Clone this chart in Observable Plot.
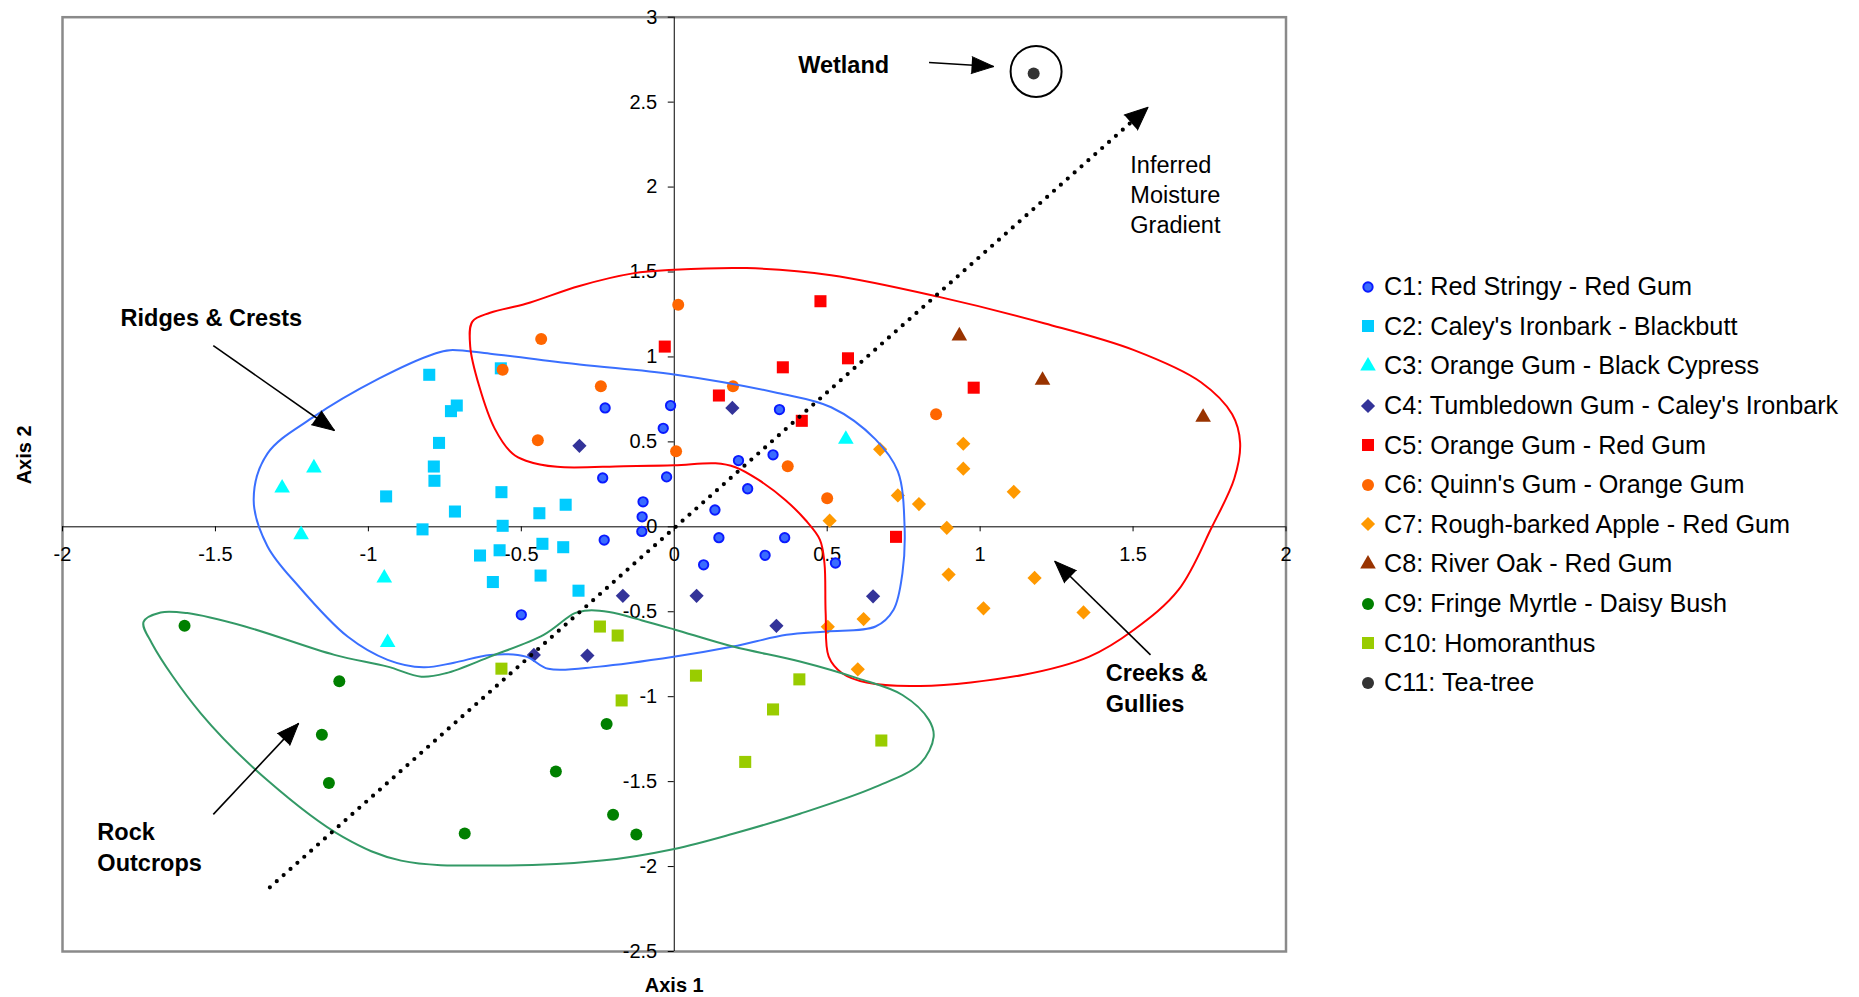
<!DOCTYPE html>
<html>
<head>
<meta charset="utf-8">
<script src="https://cdn.jsdelivr.net/npm/d3@7"></script>
<script src="https://cdn.jsdelivr.net/npm/@observablehq/plot@0.6"></script>
<style>
  body { margin: 0; background: #fff; font-family: "Liberation Sans", Arial, sans-serif; }
  #wrap { position: relative; width: 1859px; height: 997px; }
  #legend { position: absolute; left: 1357px; top: 267px; }
  .row { display: flex; align-items: center; height: 39.6px; font-size: 25.2px; color: #000; white-space: nowrap; }
  .row svg { flex: none; margin-right: 5px; }
</style>
</head>
<body>
<div id="wrap"><div id="chart"></div><div id="legend"></div></div>
<script>
// ---------- data ----------
const groups = [
  "C1: Red Stringy - Red Gum",
  "C2: Caley's Ironbark - Blackbutt",
  "C3: Orange Gum - Black Cypress",
  "C4: Tumbledown Gum - Caley's Ironbark",
  "C5: Orange Gum - Red Gum",
  "C6: Quinn's Gum - Orange Gum",
  "C7: Rough-barked Apple - Red Gum",
  "C8: River Oak - Red Gum",
  "C9: Fringe Myrtle - Daisy Bush",
  "C10: Homoranthus",
  "C11: Tea-tree"
];
const C1 = [[-0.226,0.70],[-0.012,0.714],[-0.036,0.58],[-0.234,0.288],[-0.025,0.294],[-0.102,0.147],[-0.105,0.059],[-0.106,-0.027],[-0.229,-0.078],[0.344,0.69],[0.21,0.39],[0.323,0.424],[0.24,0.224],[0.133,0.099],[0.146,-0.064],[0.361,-0.064],[0.297,-0.168],[0.096,-0.224],[0.527,-0.213],[-0.5,-0.518]];
const C2 = [[-0.801,0.895],[-0.567,0.933],[-0.711,0.714],[-0.73,0.681],[-0.769,0.494],[-0.786,0.355],[-0.784,0.271],[-0.942,0.179],[-0.565,0.204],[-0.355,0.13],[-0.717,0.09],[-0.441,0.08],[-0.823,-0.015],[-0.561,0.006],[-0.431,-0.10],[-0.363,-0.12],[-0.635,-0.169],[-0.571,-0.138],[-0.593,-0.325],[-0.437,-0.287],[-0.313,-0.376]];
const C3 = [[-1.178,0.347],[-1.282,0.229],[-1.22,-0.046],[-0.948,-0.301],[-0.937,-0.681],[0.561,0.515]];
const C4 = [[-0.31,0.477],[0.19,0.70],[-0.168,-0.406],[-0.459,-0.754],[-0.284,-0.758],[0.073,-0.406],[0.65,-0.409],[0.334,-0.583]];
const C5 = [[-0.031,1.061],[0.478,1.328],[0.568,0.992],[0.355,0.939],[0.146,0.773],[0.417,0.624],[0.979,0.819],[0.725,-0.059]];
const C6 = [[0.013,1.307],[-0.435,1.105],[-0.561,0.924],[-0.24,0.828],[-0.446,0.51],[0.006,0.445],[0.192,0.828],[0.371,0.357],[0.856,0.662],[0.5,0.168]];
const C7 = [[0.673,0.456],[0.945,0.489],[0.945,0.342],[1.11,0.206],[0.731,0.185],[0.8,0.134],[0.508,0.036],[0.891,-0.006],[0.897,-0.281],[1.178,-0.301],[1.011,-0.48],[1.338,-0.504],[0.619,-0.543],[0.502,-0.589],[0.6,-0.839]];
const C8 = [[0.932,1.124],[1.204,0.863],[1.729,0.645]];
const C9 = [[-1.601,-0.583],[-1.095,-0.909],[-1.152,-1.224],[-1.129,-1.508],[-0.685,-1.805],[-0.387,-1.441],[-0.221,-1.161],[-0.2,-1.695],[-0.124,-1.811]];
const C10 = [[-0.243,-0.587],[-0.185,-0.64],[-0.565,-0.835],[-0.172,-1.022],[0.071,-0.876],[0.409,-0.898],[0.323,-1.075],[0.677,-1.258],[0.232,-1.384]];
const C11 = [[1.175,2.668]];
const series = [C1, C2, C3, C4, C5, C6, C7, C8, C9, C10, C11];

// group outlines (hand-drawn envelopes)
const ridgesOutline = [[-0.784,1.019],[-0.733,1.04],[-0.602,1.019],[-0.31,0.956],[0,0.897],[0.338,0.788],[0.513,0.704],[0.658,0.515],[0.731,0.326],[0.753,0],[0.746,-0.272],[0.717,-0.488],[0.658,-0.587],[0.498,-0.616],[0.367,-0.636],[0.192,-0.705],[0.003,-0.764],[-0.245,-0.823],[-0.412,-0.836],[-0.485,-0.764],[-0.602,-0.754],[-0.72,-0.8],[-0.82,-0.827],[-0.937,-0.783],[-1.068,-0.646],[-1.228,-0.35],[-1.33,-0.114],[-1.375,0.16],[-1.33,0.431],[-1.184,0.641],[-0.966,0.872]];
const creeksOutline = [[-0.66,1.208],[-0.602,1.26],[-0.485,1.313],[-0.31,1.418],[-0.135,1.492],[0,1.513],[0.236,1.523],[0.513,1.481],[0.862,1.355],[1.212,1.197],[1.503,1.04],[1.722,0.851],[1.824,0.662],[1.85,0.494],[1.831,0.284],[1.758,0],[1.649,-0.37],[1.503,-0.606],[1.357,-0.764],[1.139,-0.872],[0.804,-0.937],[0.629,-0.917],[0.549,-0.862],[0.505,-0.764],[0.495,-0.508],[0.491,-0.213],[0.476,-0.075],[0.429,0.04],[0.363,0.158],[0.276,0.276],[0.2,0.351],[0.135,0.374],[0,0.362],[-0.165,0.357],[-0.383,0.353],[-0.485,0.389],[-0.529,0.431],[-0.587,0.578],[-0.638,0.83],[-0.667,1.061]];
const rockOutline = [[-1.735,-0.56],[-1.679,-0.504],[-1.592,-0.508],[-1.403,-0.587],[-1.111,-0.754],[-0.937,-0.823],[-0.827,-0.882],[-0.747,-0.862],[-0.602,-0.764],[-0.427,-0.636],[-0.325,-0.508],[-0.279,-0.492],[-0.213,-0.502],[-0.105,-0.551],[0,-0.604],[0.192,-0.705],[0.411,-0.793],[0.6,-0.892],[0.746,-0.99],[0.833,-1.138],[0.848,-1.236],[0.804,-1.394],[0.658,-1.531],[0.411,-1.689],[0.192,-1.807],[0,-1.896],[-0.237,-1.965],[-0.572,-1.994],[-0.893,-1.965],[-1.082,-1.827],[-1.33,-1.492],[-1.548,-1.098],[-1.708,-0.685]];

// annotation arrows
const arrowNames = ["Wetland", "Ridges & Crests", "Rock Outcrops", "Creeks & Gullies", "Inferred Moisture Gradient"];
const arrowX1 = [0.833, -1.507, -1.507, 1.557, -1.322];
const arrowY1 = [2.733, 1.067, -1.693, -0.754, -2.122];
const arrowX2 = [1.044, -1.111, -1.228, 1.244, 1.549];
const arrowY2 = [2.71, 0.567, -1.157, -0.203, 2.47];

// annotation labels
const labelText = ["Wetland", "Ridges & Crests", "Rock", "Outcrops", "Creeks &", "Gullies"];
const labelX = [0.405, -1.81, -1.886, -1.886, 1.411, 1.411];
const labelY = [2.716, 1.229, -1.797, -1.98, -0.862, -1.043];
const gradientText = ["Inferred", "Moisture", "Gradient"];
const gradientX = [1.491, 1.491, 1.491];
const gradientY = [2.128, 1.95, 1.775];
const wetlandRing = [[1.183, 2.681]];

// axes
const xTicks = [-2, -1.5, -1, -0.5, 0, 0.5, 1, 1.5, 2];
const xTickLabels = ["-2", "-1.5", "-1", "-0.5", "0", "0.5", "1", "1.5", "2"];
const yTicks = [-2.5, -2, -1.5, -1, -0.5, 0, 0.5, 1, 1.5, 2, 2.5, 3];
const yTickLabels = ["-2.5", "-2", "-1.5", "-1", "-0.5", "0", "0.5", "1", "1.5", "2", "2.5", "3"];

// ---------- styles ----------
const fills = ["#3a6cff", "#00ccff", "#00ffff", "#333399", "#ff0000", "#ff6600", "#ff9900", "#993300", "#008000", "#99cc00", "#333333"];
const strokes = ["#0a1aff", null, null, null, null, null, null, null, null, null, null];
const symbolNames = ["circle", "square", "triangle", "diamond2", "square", "circle", "diamond2", "triangle", "circle", "square", "circle"];
const d3Symbols = {circle: d3.symbolCircle, square: d3.symbolSquare, triangle: d3.symbolTriangle, diamond2: d3.symbolDiamond2};
const radii = [4.7, 6.8, 5.8, 6.4, 6.8, 6.0, 6.4, 5.8, 6.0, 6.8, 6.0];

const W = 1859, H = 997;
const ML = 62, MR = 573.5, MT = 16.7, MB = 46;
const kx = (W - ML - MR) / 4, ky = (H - MT - MB) / 5.5;
const font = "'Liberation Sans', Arial, sans-serif";

const table = groups.flatMap((g, i) => series[i].map(([x, y]) => ({group: g, x, y})));
const outlines = [
  ...ridgesOutline.map(([x, y]) => ({k: "ridges", x, y})),
  ...creeksOutline.map(([x, y]) => ({k: "creeks", x, y})),
  ...rockOutline.map(([x, y]) => ({k: "rock", x, y}))
];
const arrows = arrowNames.map((n, i) => ({
  name: n, x1: arrowX1[i], y1: arrowY1[i], x2: arrowX2[i], y2: arrowY2[i],
  rot: Math.atan2((arrowX2[i] - arrowX1[i]) * kx, (arrowY2[i] - arrowY1[i]) * ky) * 180 / Math.PI
}));
const labels = labelText.map((t, i) => ({t, x: labelX[i], y: labelY[i]}));
const gradLabels = gradientText.map((t, i) => ({t, x: gradientX[i], y: gradientY[i]}));
const solidArrows = arrows.slice(0, 4);
const gradArrow = arrows.slice(4);

const chart = Plot.plot({
  width: W, height: H,
  marginLeft: ML, marginRight: MR, marginTop: MT, marginBottom: MB,
  x: {domain: [-2, 2], axis: null},
  y: {domain: [-2.5, 3], axis: null},
  color: {domain: groups, range: fills},
  symbol: {domain: groups, range: symbolNames},
  style: {fontFamily: font, background: "white", overflow: "visible"},
  marks: [
    Plot.frame({stroke: "#8a8a8a", strokeWidth: 2.5}),
    Plot.ruleY([0], {stroke: "black", strokeWidth: 1}),
    Plot.ruleX([0], {stroke: "black", strokeWidth: 1}),
    Plot.ruleX(xTicks, {x: d => d, y1: 0, y2: 0, insetBottom: -5, stroke: "black", strokeWidth: 1}),
    Plot.ruleY(yTicks, {y: d => d, x1: 0, x2: 0, insetLeft: -6, stroke: "black", strokeWidth: 1}),
    Plot.text(xTicks, {x: d => d, y: 0, text: (d, i) => xTickLabels[i], dy: 28, fontSize: 20, fill: "black"}),
    Plot.text(yTicks, {x: 0, y: d => d, text: (d, i) => yTickLabels[i], dx: -17, textAnchor: "end", fontSize: 20, fill: "black"}),
    // points
    ...groups.map((g, i) => Plot.dot(table.filter(d => d.group === g), {
      x: "x", y: "y", fill: "group", symbol: "group", r: radii[i],
      stroke: strokes[i] || "none", strokeWidth: strokes[i] ? 1.9 : 0
    })),
    // group outlines
    Plot.line(outlines.filter(d => d.k === "ridges"), {x: "x", y: "y", curve: "catmull-rom-closed", stroke: "#3a6fff", strokeWidth: 2}),
    Plot.line(outlines.filter(d => d.k === "creeks"), {x: "x", y: "y", curve: "catmull-rom-closed", stroke: "#ff0000", strokeWidth: 2}),
    Plot.line(outlines.filter(d => d.k === "rock"), {x: "x", y: "y", curve: "catmull-rom-closed", stroke: "#339966", strokeWidth: 2}),
    // wetland ring
    Plot.dot(wetlandRing, {x: d => d[0], y: d => d[1], r: 25.5, stroke: "black", strokeWidth: 2, fill: "none"}),
    // moisture gradient (dotted)
    Plot.link(gradArrow, {x1: "x1", y1: "y1", x2: "x2", y2: "y2", stroke: "black", strokeWidth: 4.2, strokeDasharray: "0 9.2", strokeLinecap: "round"}),
    Plot.vector(gradArrow, {x: "x2", y: "y2", rotate: "rot", length: 23, shape: "spike", r: 10, anchor: "end", fill: "black", stroke: "black", strokeWidth: 1}),
    // annotation arrows
    Plot.link(solidArrows, {x1: "x1", y1: "y1", x2: "x2", y2: "y2", stroke: "black", strokeWidth: 1.6}),
    Plot.vector(solidArrows, {x: "x2", y: "y2", rotate: "rot", length: 22, shape: "spike", r: 8.5, anchor: "end", fill: "black", stroke: "black", strokeWidth: 1}),
    // labels
    Plot.text(labels, {x: "x", y: "y", text: "t", textAnchor: "start", fontSize: 23.5, fontWeight: "bold", fill: "black"}),
    Plot.text(gradLabels, {x: "x", y: "y", text: "t", textAnchor: "start", fontSize: 23.5, fill: "black"}),
    // axis titles
    Plot.text(["Axis 1"], {frameAnchor: "bottom", lineAnchor: "middle", text: d => d, dy: 34, fontSize: 20, fontWeight: "bold", fill: "black"}),
    Plot.text(["Axis 2"], {frameAnchor: "left", text: d => d, dx: -38, rotate: -90, fontSize: 20, fontWeight: "bold", fill: "black"})
  ]
});
document.getElementById("chart").appendChild(chart);

// ---------- legend ----------
const legend = d3.select("#legend");
groups.forEach((g, i) => {
  const row = legend.append("div").attr("class", "row");
  const svg = row.append("svg").attr("width", 22).attr("height", 22);
  svg.append("path")
    .attr("transform", "translate(11,11)")
    .attr("d", d3.symbol(d3Symbols[symbolNames[i]], Math.PI * radii[i] * radii[i])())
    .attr("fill", fills[i])
    .attr("stroke", strokes[i] || "none")
    .attr("stroke-width", strokes[i] ? 1.9 : 0);
  row.append("span").text(g);
});
</script>
</body>
</html>
